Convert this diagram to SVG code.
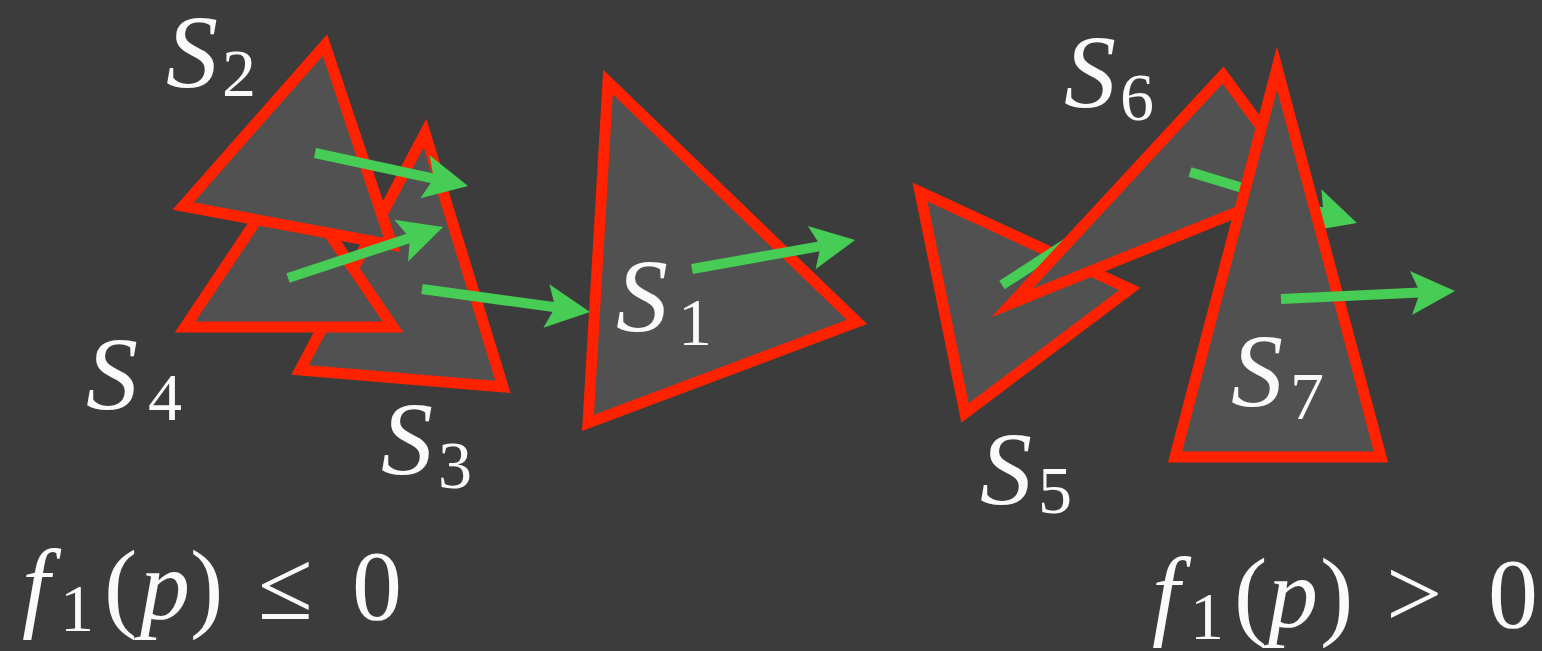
<svg xmlns="http://www.w3.org/2000/svg" width="1542" height="651" viewBox="0 0 1542 651">
<style>
.tri{fill:#515151;stroke:#ff2200;stroke-width:11;stroke-linejoin:miter;stroke-miterlimit:10}
.arr{stroke:#47cc55;stroke-width:10;fill:none;marker-end:url(#head)}
.lbl{fill:#fafafa;font-family:"Liberation Serif","DejaVu Serif",serif}
.it{font-style:italic;font-size:104px}
.sub{font-style:normal;font-size:68px}
.rm{font-style:normal;font-size:100px}
.fi{font-style:italic;font-size:100px}
</style>
<defs>
<marker id="head" markerUnits="userSpaceOnUse" markerWidth="46" markerHeight="46" refX="9" refY="0" orient="auto" overflow="visible">
<path d="M0,-22 L44,0 L0,22 L9,0 Z" fill="#47cc55"/>
</marker>
</defs>
<rect width="1542" height="651" fill="#3c3c3c"/>
<g id="S3"><polygon class="tri" points="425,133 503,387 300,370"/></g>
<g id="S4"><polygon class="tri" points="288,173 393,327 185,327"/></g>
<g id="S2"><polygon class="tri" points="325,45 392,245 183,206"/></g>
<g id="connectors-left">
<line class="arr" x1="315" y1="153" x2="433.8" y2="178.6"/>
<line class="arr" x1="422" y1="289" x2="555.3" y2="307.3"/>
<line class="arr" x1="288" y1="278" x2="409.8" y2="237.9"/>
</g>
<g id="S1"><polygon class="tri" points="608,82 857,322 588,423"/></g>
<g id="connectors-s1"><line class="arr" x1="692" y1="269" x2="820.6" y2="246.1"/></g>
<g id="S5"><polygon class="tri" points="920,192 1130,289 965,413"/></g>
<g id="connectors-s5"><line class="arr" x1="1002" y1="285" x2="1150.6" y2="189"/></g>
<g id="S6"><polygon class="tri" points="1223,75 1304,185 1012,303"/></g>
<g id="connectors-s6"><line class="arr" x1="1190" y1="172" x2="1323.5" y2="212.8"/></g>
<g id="S7"><polygon class="tri" points="1277,68 1381,457 1175,457"/></g>
<g id="connectors-s7"><line class="arr" x1="1281" y1="299" x2="1420" y2="292.6"/></g>
<g id="labels" class="lbl">
<text x="616" y="331" class="it">S<tspan x="678" y="345" class="sub">1</tspan></text>
<text x="166" y="87" class="it">S<tspan x="222" y="96" class="sub">2</tspan></text>
<text x="381" y="474" class="it">S<tspan x="438" y="488" class="sub">3</tspan></text>
<text x="86" y="409" class="it">S<tspan x="148" y="420" class="sub">4</tspan></text>
<text x="980" y="504" class="it">S<tspan x="1038" y="513" class="sub">5</tspan></text>
<text x="1064" y="107" class="it">S<tspan x="1120" y="120" class="sub">6</tspan></text>
<text x="1231" y="406" class="it">S<tspan x="1290" y="419" class="sub">7</tspan></text>
</g>
<g id="formula-left" class="lbl">
<text x="22" y="619" class="fi">f<tspan x="60" y="631" class="sub">1</tspan><tspan x="104" y="619" class="rm">(</tspan><tspan x="140" y="619" class="fi">p</tspan><tspan x="190" y="619" class="rm">)</tspan><tspan x="258" y="619" class="rm">≤</tspan><tspan x="352" y="619" class="rm">0</tspan></text>
</g>
<g id="formula-right" class="lbl">
<text x="1152" y="627" class="fi">f<tspan x="1190" y="639" class="sub">1</tspan><tspan x="1234" y="627" class="rm">(</tspan><tspan x="1268" y="627" class="fi">p</tspan><tspan x="1320" y="627" class="rm">)</tspan><tspan x="1386" y="627" class="rm">&gt;</tspan><tspan x="1488" y="627" class="rm">0</tspan></text>
</g>
</svg>
